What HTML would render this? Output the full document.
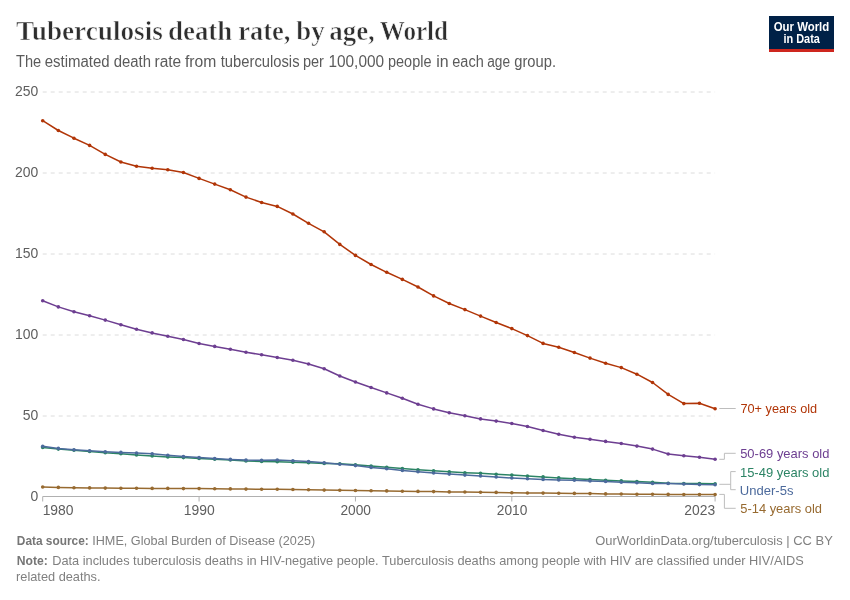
<!DOCTYPE html>
<html><head><meta charset="utf-8">
<style>
html,body{margin:0;padding:0;background:#fff;}
body{width:850px;height:600px;position:relative;overflow:hidden;}
</style></head><body>
<svg width="850" height="600" viewBox="0 0 850 600" font-family="Liberation Sans, sans-serif" style="position:absolute;left:0;top:0;will-change:transform"><rect width="850" height="600" fill="#fff"/><g font-family="Liberation Serif, serif" font-weight="bold" font-size="27.3" fill="#2e2e2e" stroke="#fff" stroke-width="0.6"><text x="16.08" y="40.3" textLength="146.77" lengthAdjust="spacingAndGlyphs">Tuberculosis</text><text x="168.01" y="40.3" textLength="64.30" lengthAdjust="spacingAndGlyphs">death</text><text x="238.19" y="40.3" textLength="52.22" lengthAdjust="spacingAndGlyphs">rate,</text><text x="296.26" y="40.3" textLength="28.30" lengthAdjust="spacingAndGlyphs">by</text><text x="329.23" y="40.3" textLength="45.59" lengthAdjust="spacingAndGlyphs">age,</text><text x="379.65" y="40.3" textLength="68.43" lengthAdjust="spacingAndGlyphs">World</text></g><g font-size="15.6" fill="#5b5b5b"><text x="16.07" y="66.7" textLength="25.18" lengthAdjust="spacingAndGlyphs">The</text><text x="44.66" y="66.7" textLength="65.00" lengthAdjust="spacingAndGlyphs">estimated</text><text x="113.77" y="66.7" textLength="37.29" lengthAdjust="spacingAndGlyphs">death</text><text x="154.47" y="66.7" textLength="26.72" lengthAdjust="spacingAndGlyphs">rate</text><text x="184.98" y="66.7" textLength="31.36" lengthAdjust="spacingAndGlyphs">from</text><text x="220.78" y="66.7" textLength="78.76" lengthAdjust="spacingAndGlyphs">tuberculosis</text><text x="302.96" y="66.7" textLength="20.98" lengthAdjust="spacingAndGlyphs">per</text><text x="328.43" y="66.7" textLength="55.67" lengthAdjust="spacingAndGlyphs">100,000</text><text x="387.97" y="66.7" textLength="43.48" lengthAdjust="spacingAndGlyphs">people</text><text x="436.23" y="66.7" textLength="12.40" lengthAdjust="spacingAndGlyphs">in</text><text x="452.28" y="66.7" textLength="31.46" lengthAdjust="spacingAndGlyphs">each</text><text x="487.22" y="66.7" textLength="22.89" lengthAdjust="spacingAndGlyphs">age</text><text x="514.28" y="66.7" textLength="41.76" lengthAdjust="spacingAndGlyphs">group.</text></g><g font-size="13.0" fill="#808080"><text x="16.8" y="544.8" font-weight="bold" fill="#767676" textLength="72" lengthAdjust="spacingAndGlyphs">Data source:</text><text x="92.2" y="544.8" textLength="223" lengthAdjust="spacingAndGlyphs">IHME, Global Burden of Disease (2025)</text><text x="832.8" y="544.8" text-anchor="end" textLength="237.5" lengthAdjust="spacingAndGlyphs">OurWorldinData.org/tuberculosis | CC BY</text><text x="16.8" y="564.8" font-weight="bold" fill="#767676" textLength="31" lengthAdjust="spacingAndGlyphs">Note:</text><text x="52.2" y="564.8" textLength="751.5" lengthAdjust="spacingAndGlyphs">Data includes tuberculosis deaths in HIV-negative people. Tuberculosis deaths among people with HIV are classified under HIV/AIDS</text><text x="16.05" y="580.6" textLength="84.51" lengthAdjust="spacingAndGlyphs">related deaths.</text></g><rect x="769" y="16" width="65" height="36" fill="#002147"/><rect x="769" y="49" width="65" height="3" fill="#ce261e"/><g fill="#fff" font-weight="bold" font-size="12.4" text-anchor="middle"><text x="801.5" y="31" textLength="55.5" lengthAdjust="spacingAndGlyphs">Our World</text><text x="801.7" y="43" textLength="36.5" lengthAdjust="spacingAndGlyphs">in Data</text></g><line x1="42.7" x2="715.1" y1="416.00" y2="416.00" stroke="#dcdcdc" stroke-width="1" stroke-dasharray="4,4"/><line x1="42.7" x2="715.1" y1="335.00" y2="335.00" stroke="#dcdcdc" stroke-width="1" stroke-dasharray="4,4"/><line x1="42.7" x2="715.1" y1="254.00" y2="254.00" stroke="#dcdcdc" stroke-width="1" stroke-dasharray="4,4"/><line x1="42.7" x2="715.1" y1="173.00" y2="173.00" stroke="#dcdcdc" stroke-width="1" stroke-dasharray="4,4"/><line x1="42.7" x2="715.1" y1="92.00" y2="92.00" stroke="#dcdcdc" stroke-width="1" stroke-dasharray="4,4"/><g fill="#5e5e5e" font-size="14.2"><text x="38.24" y="501.00" text-anchor="end" textLength="7.75" lengthAdjust="spacingAndGlyphs">0</text><text x="38.24" y="420.00" text-anchor="end" textLength="15.50" lengthAdjust="spacingAndGlyphs">50</text><text x="38.24" y="339.00" text-anchor="end" textLength="23.24" lengthAdjust="spacingAndGlyphs">100</text><text x="38.24" y="258.00" text-anchor="end" textLength="23.24" lengthAdjust="spacingAndGlyphs">150</text><text x="38.24" y="177.00" text-anchor="end" textLength="23.24" lengthAdjust="spacingAndGlyphs">200</text><text x="38.24" y="96.00" text-anchor="end" textLength="23.24" lengthAdjust="spacingAndGlyphs">250</text><text x="42.64" y="514.60" textLength="30.90" lengthAdjust="spacingAndGlyphs">1980</text><text x="183.74" y="514.60" textLength="30.90" lengthAdjust="spacingAndGlyphs">1990</text><text x="340.45" y="514.60" textLength="30.53" lengthAdjust="spacingAndGlyphs">2000</text><text x="496.82" y="514.60" textLength="30.53" lengthAdjust="spacingAndGlyphs">2010</text><text x="684.30" y="514.60" textLength="30.80" lengthAdjust="spacingAndGlyphs">2023</text></g><line x1="42.7" x2="715.1" y1="496.5" y2="496.5" stroke="#b0b0b0" stroke-width="1"/><line x1="42.70" x2="42.70" y1="496.5" y2="501.5" stroke="#b0b0b0" stroke-width="1"/><line x1="199.07" x2="199.07" y1="496.5" y2="501.5" stroke="#b0b0b0" stroke-width="1"/><line x1="355.44" x2="355.44" y1="496.5" y2="501.5" stroke="#b0b0b0" stroke-width="1"/><line x1="511.81" x2="511.81" y1="496.5" y2="501.5" stroke="#b0b0b0" stroke-width="1"/><line x1="715.09" x2="715.09" y1="496.5" y2="501.5" stroke="#b0b0b0" stroke-width="1"/><polyline points="42.70,487.00 58.34,487.40 73.97,487.80 89.61,487.90 105.25,488.10 120.89,488.20 136.52,488.20 152.16,488.40 167.80,488.40 183.43,488.60 199.07,488.60 214.71,488.80 230.34,488.90 245.98,489.10 261.62,489.20 277.25,489.20 292.89,489.50 308.53,489.80 324.17,490.10 339.80,490.20 355.44,490.50 371.08,490.70 386.71,490.90 402.35,491.30 417.99,491.40 433.62,491.60 449.26,491.90 464.90,492.00 480.54,492.30 496.17,492.40 511.81,492.70 527.45,493.00 543.08,493.10 558.72,493.30 574.36,493.40 590.00,493.60 605.63,493.90 621.27,494.00 636.91,494.20 652.54,494.20 668.18,494.40 683.82,494.50 699.45,494.50 715.09,494.60" fill="none" stroke="#976A30" stroke-width="1.5" stroke-linejoin="round"/><g fill="#976A30"><circle cx="42.70" cy="487.00" r="1.8"/><circle cx="58.34" cy="487.40" r="1.8"/><circle cx="73.97" cy="487.80" r="1.8"/><circle cx="89.61" cy="487.90" r="1.8"/><circle cx="105.25" cy="488.10" r="1.8"/><circle cx="120.89" cy="488.20" r="1.8"/><circle cx="136.52" cy="488.20" r="1.8"/><circle cx="152.16" cy="488.40" r="1.8"/><circle cx="167.80" cy="488.40" r="1.8"/><circle cx="183.43" cy="488.60" r="1.8"/><circle cx="199.07" cy="488.60" r="1.8"/><circle cx="214.71" cy="488.80" r="1.8"/><circle cx="230.34" cy="488.90" r="1.8"/><circle cx="245.98" cy="489.10" r="1.8"/><circle cx="261.62" cy="489.20" r="1.8"/><circle cx="277.25" cy="489.20" r="1.8"/><circle cx="292.89" cy="489.50" r="1.8"/><circle cx="308.53" cy="489.80" r="1.8"/><circle cx="324.17" cy="490.10" r="1.8"/><circle cx="339.80" cy="490.20" r="1.8"/><circle cx="355.44" cy="490.50" r="1.8"/><circle cx="371.08" cy="490.70" r="1.8"/><circle cx="386.71" cy="490.90" r="1.8"/><circle cx="402.35" cy="491.30" r="1.8"/><circle cx="417.99" cy="491.40" r="1.8"/><circle cx="433.62" cy="491.60" r="1.8"/><circle cx="449.26" cy="491.90" r="1.8"/><circle cx="464.90" cy="492.00" r="1.8"/><circle cx="480.54" cy="492.30" r="1.8"/><circle cx="496.17" cy="492.40" r="1.8"/><circle cx="511.81" cy="492.70" r="1.8"/><circle cx="527.45" cy="493.00" r="1.8"/><circle cx="543.08" cy="493.10" r="1.8"/><circle cx="558.72" cy="493.30" r="1.8"/><circle cx="574.36" cy="493.40" r="1.8"/><circle cx="590.00" cy="493.60" r="1.8"/><circle cx="605.63" cy="493.90" r="1.8"/><circle cx="621.27" cy="494.00" r="1.8"/><circle cx="636.91" cy="494.20" r="1.8"/><circle cx="652.54" cy="494.20" r="1.8"/><circle cx="668.18" cy="494.40" r="1.8"/><circle cx="683.82" cy="494.50" r="1.8"/><circle cx="699.45" cy="494.50" r="1.8"/><circle cx="715.09" cy="494.60" r="1.8"/></g><polyline points="42.70,447.40 58.34,449.10 73.97,450.20 89.61,451.40 105.25,452.80 120.89,453.80 136.52,455.00 152.16,456.00 167.80,456.90 183.43,457.60 199.07,458.40 214.71,459.30 230.34,460.00 245.98,461.00 261.62,461.40 277.25,461.80 292.89,462.20 308.53,462.80 324.17,463.40 339.80,463.80 355.44,464.80 371.08,466.00 386.71,467.30 402.35,468.60 417.99,469.70 433.62,470.80 449.26,471.80 464.90,472.70 480.54,473.30 496.17,474.20 511.81,475.10 527.45,476.10 543.08,476.90 558.72,477.90 574.36,478.70 590.00,479.50 605.63,480.20 621.27,480.90 636.91,481.50 652.54,482.20 668.18,483.20 683.82,483.60 699.45,483.50 715.09,483.70" fill="none" stroke="#2C8465" stroke-width="1.5" stroke-linejoin="round"/><g fill="#2C8465"><circle cx="42.70" cy="447.40" r="1.8"/><circle cx="58.34" cy="449.10" r="1.8"/><circle cx="73.97" cy="450.20" r="1.8"/><circle cx="89.61" cy="451.40" r="1.8"/><circle cx="105.25" cy="452.80" r="1.8"/><circle cx="120.89" cy="453.80" r="1.8"/><circle cx="136.52" cy="455.00" r="1.8"/><circle cx="152.16" cy="456.00" r="1.8"/><circle cx="167.80" cy="456.90" r="1.8"/><circle cx="183.43" cy="457.60" r="1.8"/><circle cx="199.07" cy="458.40" r="1.8"/><circle cx="214.71" cy="459.30" r="1.8"/><circle cx="230.34" cy="460.00" r="1.8"/><circle cx="245.98" cy="461.00" r="1.8"/><circle cx="261.62" cy="461.40" r="1.8"/><circle cx="277.25" cy="461.80" r="1.8"/><circle cx="292.89" cy="462.20" r="1.8"/><circle cx="308.53" cy="462.80" r="1.8"/><circle cx="324.17" cy="463.40" r="1.8"/><circle cx="339.80" cy="463.80" r="1.8"/><circle cx="355.44" cy="464.80" r="1.8"/><circle cx="371.08" cy="466.00" r="1.8"/><circle cx="386.71" cy="467.30" r="1.8"/><circle cx="402.35" cy="468.60" r="1.8"/><circle cx="417.99" cy="469.70" r="1.8"/><circle cx="433.62" cy="470.80" r="1.8"/><circle cx="449.26" cy="471.80" r="1.8"/><circle cx="464.90" cy="472.70" r="1.8"/><circle cx="480.54" cy="473.30" r="1.8"/><circle cx="496.17" cy="474.20" r="1.8"/><circle cx="511.81" cy="475.10" r="1.8"/><circle cx="527.45" cy="476.10" r="1.8"/><circle cx="543.08" cy="476.90" r="1.8"/><circle cx="558.72" cy="477.90" r="1.8"/><circle cx="574.36" cy="478.70" r="1.8"/><circle cx="590.00" cy="479.50" r="1.8"/><circle cx="605.63" cy="480.20" r="1.8"/><circle cx="621.27" cy="480.90" r="1.8"/><circle cx="636.91" cy="481.50" r="1.8"/><circle cx="652.54" cy="482.20" r="1.8"/><circle cx="668.18" cy="483.20" r="1.8"/><circle cx="683.82" cy="483.60" r="1.8"/><circle cx="699.45" cy="483.50" r="1.8"/><circle cx="715.09" cy="483.70" r="1.8"/></g><polyline points="42.70,446.30 58.34,448.40 73.97,449.70 89.61,450.80 105.25,451.70 120.89,452.40 136.52,453.10 152.16,453.70 167.80,455.20 183.43,456.50 199.07,457.60 214.71,458.60 230.34,459.40 245.98,460.10 261.62,460.20 277.25,460.00 292.89,460.70 308.53,461.50 324.17,462.80 339.80,464.20 355.44,465.60 371.08,467.40 386.71,468.70 402.35,470.40 417.99,471.80 433.62,473.00 449.26,474.10 464.90,475.10 480.54,475.90 496.17,477.00 511.81,478.00 527.45,478.70 543.08,479.40 558.72,479.90 574.36,480.20 590.00,480.90 605.63,481.50 621.27,482.30 636.91,482.80 652.54,483.50 668.18,483.50 683.82,484.00 699.45,484.60 715.09,484.80" fill="none" stroke="#4C6A9C" stroke-width="1.5" stroke-linejoin="round"/><g fill="#4C6A9C"><circle cx="42.70" cy="446.30" r="1.8"/><circle cx="58.34" cy="448.40" r="1.8"/><circle cx="73.97" cy="449.70" r="1.8"/><circle cx="89.61" cy="450.80" r="1.8"/><circle cx="105.25" cy="451.70" r="1.8"/><circle cx="120.89" cy="452.40" r="1.8"/><circle cx="136.52" cy="453.10" r="1.8"/><circle cx="152.16" cy="453.70" r="1.8"/><circle cx="167.80" cy="455.20" r="1.8"/><circle cx="183.43" cy="456.50" r="1.8"/><circle cx="199.07" cy="457.60" r="1.8"/><circle cx="214.71" cy="458.60" r="1.8"/><circle cx="230.34" cy="459.40" r="1.8"/><circle cx="245.98" cy="460.10" r="1.8"/><circle cx="261.62" cy="460.20" r="1.8"/><circle cx="277.25" cy="460.00" r="1.8"/><circle cx="292.89" cy="460.70" r="1.8"/><circle cx="308.53" cy="461.50" r="1.8"/><circle cx="324.17" cy="462.80" r="1.8"/><circle cx="339.80" cy="464.20" r="1.8"/><circle cx="355.44" cy="465.60" r="1.8"/><circle cx="371.08" cy="467.40" r="1.8"/><circle cx="386.71" cy="468.70" r="1.8"/><circle cx="402.35" cy="470.40" r="1.8"/><circle cx="417.99" cy="471.80" r="1.8"/><circle cx="433.62" cy="473.00" r="1.8"/><circle cx="449.26" cy="474.10" r="1.8"/><circle cx="464.90" cy="475.10" r="1.8"/><circle cx="480.54" cy="475.90" r="1.8"/><circle cx="496.17" cy="477.00" r="1.8"/><circle cx="511.81" cy="478.00" r="1.8"/><circle cx="527.45" cy="478.70" r="1.8"/><circle cx="543.08" cy="479.40" r="1.8"/><circle cx="558.72" cy="479.90" r="1.8"/><circle cx="574.36" cy="480.20" r="1.8"/><circle cx="590.00" cy="480.90" r="1.8"/><circle cx="605.63" cy="481.50" r="1.8"/><circle cx="621.27" cy="482.30" r="1.8"/><circle cx="636.91" cy="482.80" r="1.8"/><circle cx="652.54" cy="483.50" r="1.8"/><circle cx="668.18" cy="483.50" r="1.8"/><circle cx="683.82" cy="484.00" r="1.8"/><circle cx="699.45" cy="484.60" r="1.8"/><circle cx="715.09" cy="484.80" r="1.8"/></g><polyline points="42.70,300.70 58.34,306.90 73.97,311.80 89.61,315.80 105.25,320.10 120.89,324.80 136.52,329.30 152.16,332.90 167.80,336.30 183.43,339.50 199.07,343.50 214.71,346.40 230.34,349.20 245.98,352.20 261.62,354.80 277.25,357.50 292.89,360.30 308.53,364.00 324.17,368.80 339.80,376.00 355.44,382.00 371.08,387.50 386.71,392.90 402.35,398.20 417.99,404.20 433.62,408.90 449.26,412.70 464.90,415.70 480.54,418.90 496.17,421.10 511.81,423.50 527.45,426.50 543.08,430.50 558.72,434.30 574.36,437.30 590.00,439.20 605.63,441.40 621.27,443.50 636.91,446.10 652.54,449.10 668.18,454.00 683.82,455.70 699.45,457.30 715.09,459.30" fill="none" stroke="#6D3E91" stroke-width="1.5" stroke-linejoin="round"/><g fill="#6D3E91"><circle cx="42.70" cy="300.70" r="1.8"/><circle cx="58.34" cy="306.90" r="1.8"/><circle cx="73.97" cy="311.80" r="1.8"/><circle cx="89.61" cy="315.80" r="1.8"/><circle cx="105.25" cy="320.10" r="1.8"/><circle cx="120.89" cy="324.80" r="1.8"/><circle cx="136.52" cy="329.30" r="1.8"/><circle cx="152.16" cy="332.90" r="1.8"/><circle cx="167.80" cy="336.30" r="1.8"/><circle cx="183.43" cy="339.50" r="1.8"/><circle cx="199.07" cy="343.50" r="1.8"/><circle cx="214.71" cy="346.40" r="1.8"/><circle cx="230.34" cy="349.20" r="1.8"/><circle cx="245.98" cy="352.20" r="1.8"/><circle cx="261.62" cy="354.80" r="1.8"/><circle cx="277.25" cy="357.50" r="1.8"/><circle cx="292.89" cy="360.30" r="1.8"/><circle cx="308.53" cy="364.00" r="1.8"/><circle cx="324.17" cy="368.80" r="1.8"/><circle cx="339.80" cy="376.00" r="1.8"/><circle cx="355.44" cy="382.00" r="1.8"/><circle cx="371.08" cy="387.50" r="1.8"/><circle cx="386.71" cy="392.90" r="1.8"/><circle cx="402.35" cy="398.20" r="1.8"/><circle cx="417.99" cy="404.20" r="1.8"/><circle cx="433.62" cy="408.90" r="1.8"/><circle cx="449.26" cy="412.70" r="1.8"/><circle cx="464.90" cy="415.70" r="1.8"/><circle cx="480.54" cy="418.90" r="1.8"/><circle cx="496.17" cy="421.10" r="1.8"/><circle cx="511.81" cy="423.50" r="1.8"/><circle cx="527.45" cy="426.50" r="1.8"/><circle cx="543.08" cy="430.50" r="1.8"/><circle cx="558.72" cy="434.30" r="1.8"/><circle cx="574.36" cy="437.30" r="1.8"/><circle cx="590.00" cy="439.20" r="1.8"/><circle cx="605.63" cy="441.40" r="1.8"/><circle cx="621.27" cy="443.50" r="1.8"/><circle cx="636.91" cy="446.10" r="1.8"/><circle cx="652.54" cy="449.10" r="1.8"/><circle cx="668.18" cy="454.00" r="1.8"/><circle cx="683.82" cy="455.70" r="1.8"/><circle cx="699.45" cy="457.30" r="1.8"/><circle cx="715.09" cy="459.30" r="1.8"/></g><polyline points="42.70,120.70 58.34,130.50 73.97,138.20 89.61,145.40 105.25,154.40 120.89,162.00 136.52,166.30 152.16,168.20 167.80,169.70 183.43,172.50 199.07,178.40 214.71,184.10 230.34,189.70 245.98,197.10 261.62,202.50 277.25,206.40 292.89,214.00 308.53,223.30 324.17,231.80 339.80,244.40 355.44,255.40 371.08,264.50 386.71,272.30 402.35,279.40 417.99,287.00 433.62,295.90 449.26,303.50 464.90,309.60 480.54,316.10 496.17,322.50 511.81,328.60 527.45,335.60 543.08,343.40 558.72,347.30 574.36,352.50 590.00,358.10 605.63,363.30 621.27,367.60 636.91,374.20 652.54,382.50 668.18,394.40 683.82,403.60 699.45,403.20 715.09,408.70" fill="none" stroke="#B13507" stroke-width="1.5" stroke-linejoin="round"/><g fill="#B13507"><circle cx="42.70" cy="120.70" r="1.8"/><circle cx="58.34" cy="130.50" r="1.8"/><circle cx="73.97" cy="138.20" r="1.8"/><circle cx="89.61" cy="145.40" r="1.8"/><circle cx="105.25" cy="154.40" r="1.8"/><circle cx="120.89" cy="162.00" r="1.8"/><circle cx="136.52" cy="166.30" r="1.8"/><circle cx="152.16" cy="168.20" r="1.8"/><circle cx="167.80" cy="169.70" r="1.8"/><circle cx="183.43" cy="172.50" r="1.8"/><circle cx="199.07" cy="178.40" r="1.8"/><circle cx="214.71" cy="184.10" r="1.8"/><circle cx="230.34" cy="189.70" r="1.8"/><circle cx="245.98" cy="197.10" r="1.8"/><circle cx="261.62" cy="202.50" r="1.8"/><circle cx="277.25" cy="206.40" r="1.8"/><circle cx="292.89" cy="214.00" r="1.8"/><circle cx="308.53" cy="223.30" r="1.8"/><circle cx="324.17" cy="231.80" r="1.8"/><circle cx="339.80" cy="244.40" r="1.8"/><circle cx="355.44" cy="255.40" r="1.8"/><circle cx="371.08" cy="264.50" r="1.8"/><circle cx="386.71" cy="272.30" r="1.8"/><circle cx="402.35" cy="279.40" r="1.8"/><circle cx="417.99" cy="287.00" r="1.8"/><circle cx="433.62" cy="295.90" r="1.8"/><circle cx="449.26" cy="303.50" r="1.8"/><circle cx="464.90" cy="309.60" r="1.8"/><circle cx="480.54" cy="316.10" r="1.8"/><circle cx="496.17" cy="322.50" r="1.8"/><circle cx="511.81" cy="328.60" r="1.8"/><circle cx="527.45" cy="335.60" r="1.8"/><circle cx="543.08" cy="343.40" r="1.8"/><circle cx="558.72" cy="347.30" r="1.8"/><circle cx="574.36" cy="352.50" r="1.8"/><circle cx="590.00" cy="358.10" r="1.8"/><circle cx="605.63" cy="363.30" r="1.8"/><circle cx="621.27" cy="367.60" r="1.8"/><circle cx="636.91" cy="374.20" r="1.8"/><circle cx="652.54" cy="382.50" r="1.8"/><circle cx="668.18" cy="394.40" r="1.8"/><circle cx="683.82" cy="403.60" r="1.8"/><circle cx="699.45" cy="403.20" r="1.8"/><circle cx="715.09" cy="408.70" r="1.8"/></g><g fill="none" stroke="#bdbdbd" stroke-width="1"><path d="M719.3 408.5 H735.7"/><path d="M719.3 459.3 H724.4 V453.3 H735.7"/><path d="M719.3 484.3 H730.7 M735.7 471.6 H730.7 V489.7 H735.7"/><path d="M719.3 494.4 H724.4 V508.3 H735.7"/></g><g font-size="13.6"><text x="740.45" y="413.10" fill="#B13507" textLength="76.77" lengthAdjust="spacingAndGlyphs">70+ years old</text><text x="740.18" y="457.80" fill="#6D3E91" textLength="89.25" lengthAdjust="spacingAndGlyphs">50-69 years old</text><text x="739.91" y="476.60" fill="#2C8465" textLength="89.53" lengthAdjust="spacingAndGlyphs">15-49 years old</text><text x="739.79" y="494.80" fill="#4C6A9C" textLength="53.68" lengthAdjust="spacingAndGlyphs">Under-5s</text><text x="740.28" y="513.20" fill="#976A30" textLength="81.75" lengthAdjust="spacingAndGlyphs">5-14 years old</text></g></svg>
</body></html>
